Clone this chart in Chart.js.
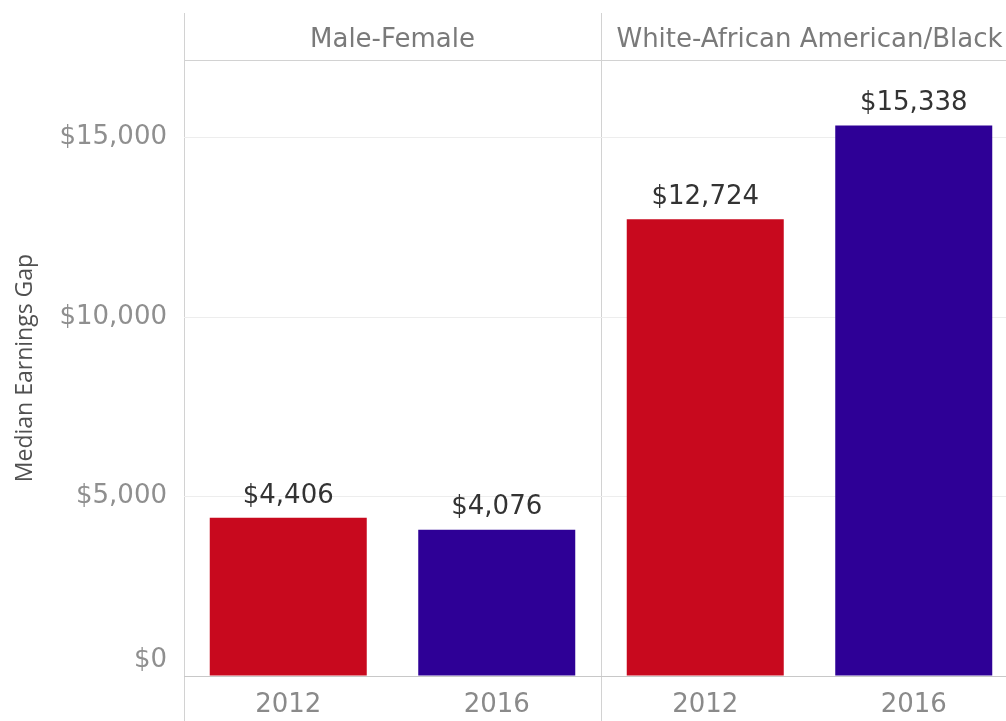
<!DOCTYPE html>
<html>
<head>
<meta charset="utf-8">
<script src="https://cdn.jsdelivr.net/npm/chart.js@4.4.1/dist/chart.umd.min.js"></script>
<style>
  html, body { margin: 0; padding: 0; background: #fff; overflow: hidden; }
  #wrap { width: 1018px; height: 721px; }
</style>
</head>
<body>
<div id="wrap"><canvas id="gapChart" width="1018" height="721"></canvas></div>
<script>
// Median earnings gap by comparison group and year
const groups = ['Male-Female', 'White-African American/Black'];
const years = ['2012', '2016'];
const gap2012 = [4406, 12724];
const gap2016 = [4076, 15338];
const yTicks = [0, 5000, 10000, 15000];

const yearColors = { '2012': '#c8091e', '2016': '#2e0096' };
const labelFont = '"DejaVu Sans", sans-serif';

// one bar per group/year pair, laid out group by group
const labels = [];
const values = [];
const colors = [];
groups.forEach((g, gi) => {
    years.forEach(y => {
        labels.push(y);
        values.push(y === '2012' ? gap2012[gi] : gap2016[gi]);
        colors.push(yearColors[y]);
    });
});

function money(v) {
    return '$' + v.toLocaleString('en-US');
}

// panel header band + panel divider lines
const panelPlugin = {
    id: 'panels',
    beforeDraw(chart) {
        const { ctx, chartArea, scales: { x } } = chart;
        const perGroup = years.length;
        const step = x.getPixelForValue(1) - x.getPixelForValue(0);
        const bandTop = 13;

        ctx.save();
        ctx.strokeStyle = '#d2d2d2';
        ctx.lineWidth = 1;

        // header underline
        ctx.beginPath();
        ctx.moveTo(chartArea.left, chartArea.top + 0.5);
        ctx.lineTo(chartArea.right, chartArea.top + 0.5);
        ctx.stroke();

        groups.forEach((g, gi) => {
            const left = x.getPixelForValue(gi * perGroup) - step / 2;
            const right = x.getPixelForValue(gi * perGroup + perGroup - 1) + step / 2;
            const lx = Math.round(left) + 0.5;

            ctx.beginPath();
            ctx.moveTo(lx, bandTop);
            ctx.lineTo(lx, chart.height);
            ctx.stroke();

            ctx.fillStyle = '#7a7a7a';
            ctx.font = '26px ' + labelFont;
            ctx.textAlign = 'center';
            ctx.textBaseline = 'middle';
            ctx.fillText(g, (left + right) / 2, (bandTop + chartArea.top) / 2 + 4);
        });
        ctx.restore();
    }
};

// value labels above each bar
const valueLabels = {
    id: 'valueLabels',
    afterDatasetsDraw(chart) {
        const { ctx } = chart;
        const meta = chart.getDatasetMeta(0);
        ctx.save();
        ctx.fillStyle = '#333';
        ctx.font = '26px ' + labelFont;
        ctx.textAlign = 'center';
        ctx.textBaseline = 'middle';
        meta.data.forEach((bar, i) => {
            ctx.fillText(money(values[i]), bar.x, bar.y - 22);
        });
        ctx.restore();
    }
};

new Chart(document.getElementById('gapChart'), {
    type: 'bar',
    data: {
        labels: labels,
        datasets: [{
            data: values,
            backgroundColor: colors,
            borderWidth: 0,
            categoryPercentage: 1,
            barPercentage: 0.753
        }]
    },
    options: {
        responsive: false,
        animation: false,
        layout: { padding: { top: 60, left: 0, right: 0, bottom: 0 } },
        plugins: {
            legend: { display: false },
            tooltip: { enabled: false }
        },
        scales: {
            x: {
                grid: { display: false },
                border: { display: false },
                ticks: {
                    color: '#8a8a8a',
                    padding: 6,
                    font: { family: labelFont, size: 26 }
                },
                afterFit(scale) { scale.height = 45; }
            },
            y: {
                min: 0,
                max: 17160,
                afterBuildTicks(axis) {
                    axis.ticks = yTicks.map(v => ({ value: v }));
                },
                grid: {
                    // invisible tick marks give the label gap without padding
                    drawTicks: true,
                    tickLength: 17,
                    tickColor: 'rgba(0,0,0,0)',
                    color: ctx => ctx.tick && ctx.tick.value === 0 ? '#c8c8c8' : '#ededed'
                },
                border: { display: false },
                ticks: {
                    color: '#8f8f8f',
                    padding: 0,
                    font: { family: labelFont, size: 26, lineHeight: 1.25 },
                    // zero label sits just above the axis line
                    callback: v => v === 0 ? [money(v), ''] : money(v)
                },
                title: {
                    display: true,
                    text: 'Median Earnings Gap',
                    color: '#505050',
                    padding: { top: 12 },
                    font: { family: '"Open Sans", sans-serif', size: 23 }
                },
                afterFit(scale) { scale.width = 184; }
            }
        }
    },
    plugins: [panelPlugin, valueLabels]
});
</script>
</body>
</html>
